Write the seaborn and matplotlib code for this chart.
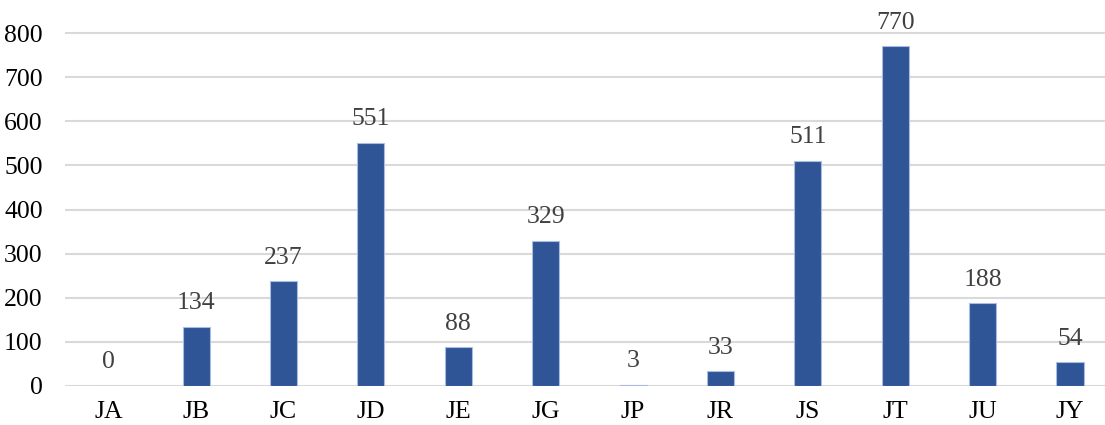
import matplotlib
matplotlib.use("Agg")
import matplotlib.pyplot as plt
import seaborn as sns
import pandas as pd

categories = ["JA", "JB", "JC", "JD", "JE", "JG", "JP", "JR", "JS", "JT", "JU", "JY"]
values = [0, 134, 237, 551, 88, 329, 3, 33, 511, 770, 188, 54]
y_ticks = [0, 100, 200, 300, 400, 500, 600, 700, 800]

sns.set_theme(style="white")
plt.rcParams["font.family"] = ["Liberation Serif", "DejaVu Serif"]

df = pd.DataFrame({"code": categories, "count": values})

W, H = 1105, 425
fig = plt.figure(figsize=(W / 100, H / 100), dpi=100)
left, right_px = 65, 1113.7
bottom_px, top_px = 386, 31
ax = fig.add_axes([left / W, (H - bottom_px) / H, (right_px - left) / W, (bottom_px - top_px) / H])

sns.barplot(data=df, x="code", y="count", color="#2F5597", width=0.31,
            edgecolor="#a9bde0", linewidth=0.8, ax=ax, zorder=3, saturation=1)

ax.set_ylim(0, 800 * (bottom_px - top_px) / (bottom_px - 33))
ax.set_xlim(-0.5, 11.5)
ax.set_yticks(y_ticks)
ax.yaxis.grid(True, color="#d9d9d9", linewidth=1.5, zorder=0)
ax.set_axisbelow(True)
for s in ax.spines.values():
    s.set_visible(False)

ax.tick_params(axis="y", length=0, pad=16, labelsize=18.5, labelcolor="#000000")
ax.tick_params(axis="x", length=0, pad=11, labelsize=18.5, labelcolor="#000000")
ax.set_xlabel("")
ax.set_ylabel("")

for i, v in enumerate(values):
    ax.annotate(str(v), (i, v), xytext=(0, 9), textcoords="offset points",
                ha="center", va="bottom", fontsize=18.5, color="#404040")

fig.savefig("out.png", dpi=100)
